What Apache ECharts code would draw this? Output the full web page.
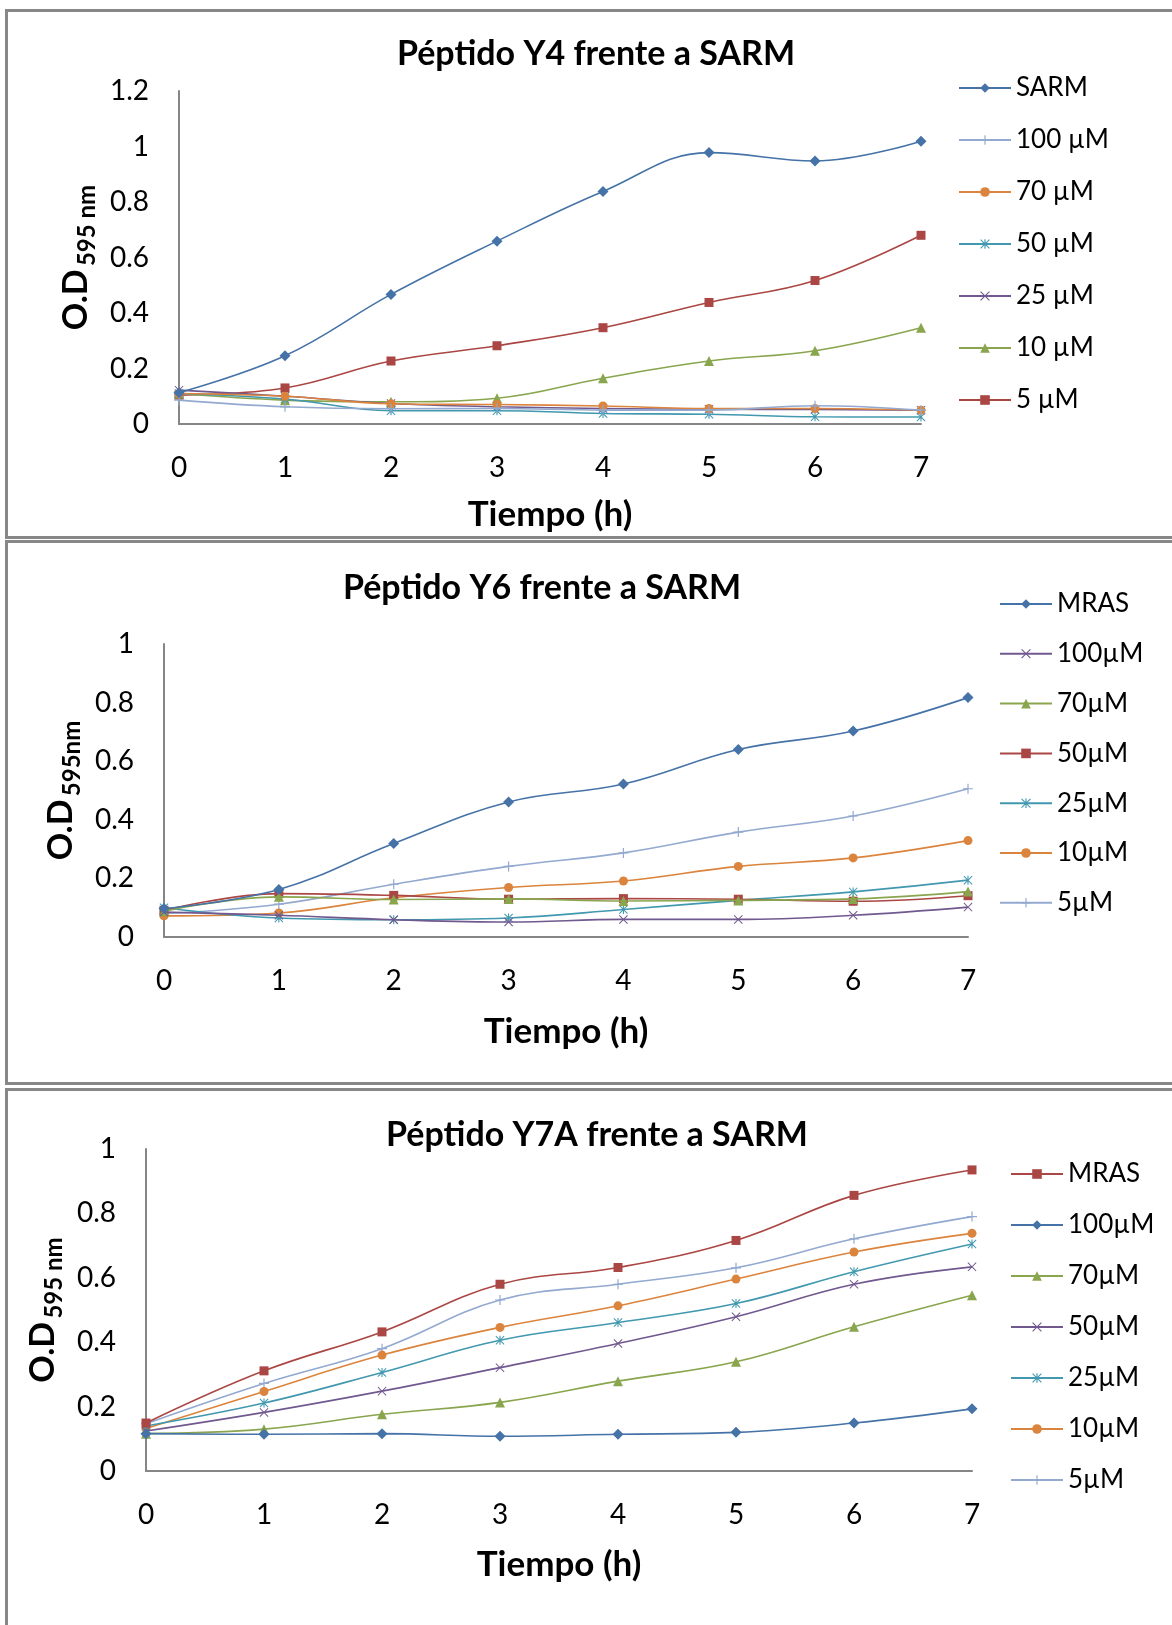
<!DOCTYPE html>
<html>
<head>
<meta charset="utf-8">
<script src="https://cdn.jsdelivr.net/npm/echarts@6/dist/echarts.min.js"></script>
<style>
  body { margin: 0; background: #fff; overflow: hidden; width: 1172px; height: 1625px; position: relative; }
  .panel { position: absolute; left: 5px; width: 1200px; box-sizing: border-box; border: 3px solid #878787; }
  .chart { position: absolute; left: 0; width: 1172px; }
</style>
</head>
<body>
<div class="panel" style="top:9px;height:530px"></div>
<div class="panel" style="top:540px;height:545px"></div>
<div class="panel" style="top:1088px;height:600px"></div>
<div id="chart1" class="chart" style="top:0;height:540px"></div>
<div id="chart2" class="chart" style="top:540px;height:545px"></div>
<div id="chart3" class="chart" style="top:1085px;height:540px"></div>
<script>
var hours = ['0', '1', '2', '3', '4', '5', '6', '7'];

// Péptido Y4
var y4Names = ['SARM', '100 µM', '70 µM', '50 µM', '25 µM', '10 µM', '5 µM'];
var y4Sarm = [0.113, 0.246, 0.467, 0.659, 0.838, 0.978, 0.948, 1.019];
var y4c100 = [0.086, 0.062, 0.055, 0.056, 0.05, 0.05, 0.066, 0.05];
var y4c70 = [0.11, 0.1, 0.073, 0.07, 0.065, 0.056, 0.056, 0.05];
var y4c50 = [0.11, 0.09, 0.048, 0.048, 0.038, 0.035, 0.026, 0.025];
var y4c25 = [0.122, 0.1, 0.074, 0.062, 0.056, 0.053, 0.052, 0.05];
var y4c10 = [0.11, 0.086, 0.08, 0.093, 0.165, 0.227, 0.264, 0.347];
var y4c5 = [0.104, 0.13, 0.227, 0.282, 0.347, 0.438, 0.517, 0.68];

// Péptido Y6
var y6Names = ['MRAS', '100µM', '70µM', '50µM', '25µM', '10µM', '5µM'];
var y6Mras = [0.097, 0.162, 0.319, 0.461, 0.522, 0.64, 0.703, 0.817];
var y6c100 = [0.085, 0.074, 0.059, 0.051, 0.06, 0.06, 0.074, 0.102];
var y6c70 = [0.088, 0.137, 0.128, 0.13, 0.123, 0.125, 0.13, 0.155];
var y6c50 = [0.091, 0.148, 0.142, 0.129, 0.131, 0.129, 0.122, 0.141];
var y6c25 = [0.1, 0.065, 0.059, 0.065, 0.094, 0.125, 0.154, 0.194];
var y6c10 = [0.072, 0.082, 0.134, 0.169, 0.191, 0.241, 0.27, 0.329];
var y6c5 = [0.08, 0.112, 0.18, 0.241, 0.287, 0.358, 0.413, 0.506];

// Péptido Y7A
var y7Names = ['MRAS', '100µM', '70µM', '50µM', '25µM', '10µM', '5µM'];
var y7Mras = [0.149, 0.311, 0.432, 0.58, 0.632, 0.716, 0.856, 0.935];
var y7c100 = [0.116, 0.114, 0.116, 0.108, 0.114, 0.12, 0.149, 0.193];
var y7c70 = [0.116, 0.13, 0.176, 0.213, 0.279, 0.339, 0.448, 0.546];
var y7c50 = [0.124, 0.182, 0.248, 0.321, 0.396, 0.479, 0.58, 0.634];
var y7c25 = [0.14, 0.211, 0.306, 0.406, 0.461, 0.52, 0.619, 0.705];
var y7c10 = [0.132, 0.247, 0.36, 0.446, 0.513, 0.596, 0.68, 0.738];
var y7c5 = [0.147, 0.272, 0.38, 0.531, 0.58, 0.631, 0.721, 0.79];

var FONT = 'Lato';

// excel 2007 marker styles
var mk = {
  diamond: { color: '#4572A7', symbol: 'diamond', size: 11 },
  square: { color: '#AA4643', symbol: 'rect', size: 9 },
  triangle: { color: '#89A54E', symbol: 'triangle', size: 10 },
  cross: { color: '#71588F', symbol: 'path://M0.8,0L5,4.2L9.2,0L10,0.8L5.8,5L10,9.2L9.2,10L5,5.8L0.8,10L0,9.2L4.2,5L0,0.8z', size: 9 },
  star: { color: '#4198AF', symbol: 'path://M0.8,0L5,4.2L9.2,0L10,0.8L5.8,5L10,9.2L9.2,10L5,5.8L0.8,10L0,9.2L4.2,5L0,0.8zM4.4,0h1.2v10h-1.2z', size: 9 },
  circle: { color: '#DB843D', symbol: 'circle', size: 9 },
  plus: { color: '#93A9CF', symbol: 'path://M4.4,0h1.2v4.4h4.4v1.2h-4.4v4.4h-1.2v-4.4h-4.4v-1.2h4.4z', size: 10 }
};

function makeSeries(names, values, styles) {
  var list = [];
  for (var i = 0; i < names.length; i++) {
    var s = mk[styles[i]];
    list.push({
      name: names[i],
      type: 'line',
      smooth: 0.4,
      data: values[i],
      symbol: s.symbol,
      symbolSize: s.size,
      itemStyle: { color: s.color },
      lineStyle: { color: s.color, width: 1.6 },
      z: 10 - i
    });
  }
  return list;
}

function makeOption(cfg) {
  return {
    animation: false,
    title: {
      text: cfg.title,
      left: cfg.titleX,
      top: cfg.titleY,
      textAlign: 'center',
      padding: 0,
      textStyle: { fontFamily: FONT, fontSize: 34, fontWeight: 'bold', color: '#000' }
    },
    legend: {
      orient: 'vertical',
      left: cfg.legend[0],
      top: cfg.legend[1],
      itemWidth: 52,
      itemHeight: 12,
      itemGap: cfg.legend[2],
      padding: 0,
      data: cfg.names,
      textStyle: { fontFamily: FONT, fontSize: 26, color: '#000' }
    },
    grid: cfg.grid,
    xAxis: {
      type: 'category',
      boundaryGap: false,
      data: hours,
      name: 'Tiempo (h)',
      nameLocation: 'middle',
      nameGap: cfg.xGap,
      nameTextStyle: { fontFamily: FONT, fontSize: 35, fontWeight: 'bold', color: '#000' },
      axisLine: { lineStyle: { color: '#868686', width: 2 } },
      axisTick: { show: false },
      axisLabel: { margin: 30, fontFamily: FONT, fontSize: 28, color: '#000' }
    },
    yAxis: {
      type: 'value',
      min: 0,
      max: cfg.yMax,
      interval: 0.2,
      name: '{a|O.D} {b|' + cfg.sub + '}',
      nameLocation: 'middle',
      nameRotate: 90,
      nameGap: 80,
      nameTextStyle: {
        rich: {
          a: { fontFamily: FONT, fontSize: 34, fontWeight: 'bold', color: '#000' },
          b: { fontFamily: FONT, fontSize: 24, fontWeight: 'bold', color: '#000', padding: [22, 0, 0, 0] }
        }
      },
      axisLine: { show: true, lineStyle: { color: '#868686', width: 2 } },
      axisTick: { show: false },
      splitLine: { show: false },
      axisLabel: { margin: 30, fontFamily: FONT, fontSize: 28, color: '#000' }
    },
    series: makeSeries(cfg.names, cfg.values, cfg.styles)
  };
}

var chart1 = echarts.init(document.getElementById('chart1'));
chart1.setOption(makeOption({
  title: 'Péptido Y4 frente a SARM',
  titleX: 596, titleY: 37,
  names: y4Names,
  values: [y4Sarm, y4c100, y4c70, y4c50, y4c25, y4c10, y4c5],
  styles: ['diamond', 'plus', 'circle', 'star', 'cross', 'triangle', 'square'],
  legend: [958, 75, 26],
  grid: { left: 179, top: 91, width: 742, height: 333 },
  yMax: 1.2,
  sub: '595 nm',
  xGap: 73
}));

var chart2 = echarts.init(document.getElementById('chart2'));
chart2.setOption(makeOption({
  title: 'Péptido Y6 frente a SARM',
  titleX: 542, titleY: 31,
  names: y6Names,
  values: [y6Mras, y6c100, y6c70, y6c50, y6c25, y6c10, y6c5],
  styles: ['diamond', 'cross', 'triangle', 'square', 'star', 'circle', 'plus'],
  legend: [999, 51, 23.8],
  grid: { left: 164, top: 104, width: 804, height: 293 },
  yMax: 1,
  sub: '595nm',
  xGap: 77
}));

var chart3 = echarts.init(document.getElementById('chart3'));
chart3.setOption(makeOption({
  title: 'Péptido Y7A frente a SARM',
  titleX: 597, titleY: 33,
  names: y7Names,
  values: [y7Mras, y7c100, y7c70, y7c50, y7c25, y7c10, y7c5],
  styles: ['square', 'diamond', 'triangle', 'cross', 'star', 'circle', 'plus'],
  legend: [1010, 76, 25],
  grid: { left: 146, top: 64, width: 826, height: 322 },
  yMax: 1,
  sub: '595 nm',
  xGap: 76
}));
</script>
</body>
</html>
